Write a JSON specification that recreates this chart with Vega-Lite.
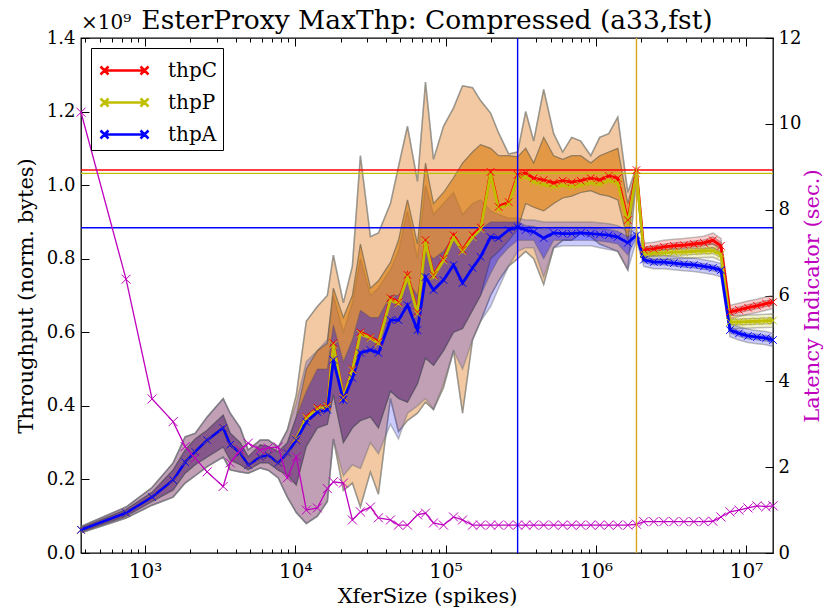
{
"$schema": "https://vega.github.io/schema/vega-lite/v6.json",
"width": 692, "height": 515,
"autosize": "none",
"padding": {"left": 81, "top": 38, "right": 58, "bottom": 59},
"background": "white",
"title": {"text": "EsterProxy MaxThp: Compressed (a33,fst)", "font": "DejaVu Serif", "fontSize": 26.5, "fontWeight": "normal", "color": "black", "anchor": "middle", "offset": 4, "dy": 25},
"config": {
  "view": {"stroke": "black", "strokeWidth": 1.3},
  "font": "DejaVu Serif",
  "axis": {"grid": false, "domain": false, "labelFont": "DejaVu Serif", "labelFontSize": 18, "labelColor": "black", "tickColor": "black", "tickWidth": 1, "titleFont": "DejaVu Serif", "titleFontSize": 21, "titleFontWeight": "normal", "titleColor": "black", "labelOverlap": false, "labelFlush": false}
},
"datasets": {
"thp": [
{"s":"thpC","x":374.5,"v":0.063,"lo":0.055,"il":0.058,"ih":0.068,"hi":0.072},
{"s":"thpC","x":747,"v":0.109,"lo":0.095,"il":0.100,"ih":0.118,"hi":0.125},
{"s":"thpC","x":1113,"v":0.152,"lo":0.130,"il":0.140,"ih":0.165,"hi":0.178},
{"s":"thpC","x":1537,"v":0.198,"lo":0.152,"il":0.171,"ih":0.226,"hi":0.245},
{"s":"thpC","x":1848,"v":0.247,"lo":0.190,"il":0.217,"ih":0.280,"hi":0.316},
{"s":"thpC","x":2154,"v":0.275,"lo":0.210,"il":0.240,"ih":0.310,"hi":0.325},
{"s":"thpC","x":2590,"v":0.307,"lo":0.235,"il":0.261,"ih":0.334,"hi":0.370},
{"s":"thpC","x":3311,"v":0.340,"lo":0.261,"il":0.288,"ih":0.375,"hi":0.420},
{"s":"thpC","x":3687,"v":0.294,"lo":0.226,"il":0.253,"ih":0.326,"hi":0.380},
{"s":"thpC","x":4299,"v":0.272,"lo":0.220,"il":0.240,"ih":0.300,"hi":0.340},
{"s":"thpC","x":4861,"v":0.239,"lo":0.217,"il":0.226,"ih":0.262,"hi":0.280},
{"s":"thpC","x":5843,"v":0.261,"lo":0.231,"il":0.245,"ih":0.294,"hi":0.307},
{"s":"thpC","x":6607,"v":0.266,"lo":0.225,"il":0.245,"ih":0.290,"hi":0.307},
{"s":"thpC","x":7702,"v":0.245,"lo":0.204,"il":0.225,"ih":0.275,"hi":0.288},
{"s":"thpC","x":8846,"v":0.272,"lo":0.152,"il":0.212,"ih":0.300,"hi":0.334},
{"s":"thpC","x":10155,"v":0.310,"lo":0.110,"il":0.185,"ih":0.370,"hi":0.430},
{"s":"thpC","x":11839,"v":0.370,"lo":0.080,"il":0.290,"ih":0.500,"hi":0.630},
{"s":"thpC","x":14019,"v":0.395,"lo":0.100,"il":0.340,"ih":0.550,"hi":0.670},
{"s":"thpC","x":16346,"v":0.400,"lo":0.140,"il":0.350,"ih":0.570,"hi":0.700},
{"s":"thpC","x":17920,"v":0.571,"lo":0.310,"il":0.430,"ih":0.720,"hi":0.810},
{"s":"thpC","x":20893,"v":0.424,"lo":0.170,"il":0.300,"ih":0.640,"hi":0.680},
{"s":"thpC","x":23988,"v":0.500,"lo":0.190,"il":0.340,"ih":0.700,"hi":0.780},
{"s":"thpC","x":27123,"v":0.600,"lo":0.125,"il":0.360,"ih":0.840,"hi":1.080},
{"s":"thpC","x":31623,"v":0.587,"lo":0.220,"il":0.370,"ih":0.720,"hi":0.860},
{"s":"thpC","x":35763,"v":0.574,"lo":0.160,"il":0.340,"ih":0.740,"hi":0.870},
{"s":"thpC","x":42987,"v":0.693,"lo":0.420,"il":0.440,"ih":0.790,"hi":0.950},
{"s":"thpC","x":48618,"v":0.682,"lo":0.330,"il":0.420,"ih":0.850,"hi":1.050},
{"s":"thpC","x":55823,"v":0.756,"lo":0.360,"il":0.410,"ih":0.960,"hi":1.160},
{"s":"thpC","x":65071,"v":0.655,"lo":0.380,"il":0.460,"ih":0.840,"hi":1.010},
{"s":"thpC","x":73564,"v":0.851,"lo":0.410,"il":0.530,"ih":1.060,"hi":1.280},
{"s":"thpC","x":83176,"v":0.756,"lo":0.390,"il":0.510,"ih":0.950,"hi":1.070},
{"s":"thpC","x":96978,"v":0.800,"lo":0.450,"il":0.550,"ih":0.980,"hi":1.160},
{"s":"thpC","x":113076,"v":0.864,"lo":0.550,"il":0.600,"ih":1.020,"hi":1.210},
{"s":"thpC","x":129837,"v":0.824,"lo":0.380,"il":0.610,"ih":1.060,"hi":1.270},
{"s":"thpC","x":151356,"v":0.864,"lo":0.580,"il":0.660,"ih":1.090,"hi":1.265},
{"s":"thpC","x":171133,"v":0.885,"lo":0.630,"il":0.700,"ih":1.110,"hi":1.230},
{"s":"thpC","x":199526,"v":1.036,"lo":0.700,"il":0.800,"ih":1.100,"hi":1.196},
{"s":"thpC","x":225633,"v":0.941,"lo":0.740,"il":0.820,"ih":1.080,"hi":1.142},
{"s":"thpC","x":263027,"v":0.954,"lo":0.780,"il":0.850,"ih":1.080,"hi":1.085},
{"s":"thpC","x":302000,"v":1.028,"lo":0.800,"il":0.880,"ih":1.077,"hi":1.090},
{"s":"thpC","x":341606,"v":1.033,"lo":0.820,"il":0.950,"ih":1.100,"hi":1.200},
{"s":"thpC","x":386367,"v":1.019,"lo":0.800,"il":0.940,"ih":1.060,"hi":1.120},
{"s":"thpC","x":450190,"v":1.014,"lo":0.730,"il":0.930,"ih":1.130,"hi":1.260},
{"s":"thpC","x":524807,"v":1.006,"lo":0.830,"il":0.950,"ih":1.080,"hi":1.140},
{"s":"thpC","x":602560,"v":1.012,"lo":0.850,"il":0.965,"ih":1.070,"hi":1.090},
{"s":"thpC","x":691831,"v":1.008,"lo":0.850,"il":0.970,"ih":1.080,"hi":1.130},
{"s":"thpC","x":794328,"v":1.012,"lo":0.870,"il":0.980,"ih":1.080,"hi":1.120},
{"s":"thpC","x":926119,"v":1.019,"lo":0.860,"il":0.985,"ih":1.060,"hi":1.080},
{"s":"thpC","x":1063386,"v":1.014,"lo":0.840,"il":0.975,"ih":1.080,"hi":1.130},
{"s":"thpC","x":1221083,"v":1.025,"lo":0.830,"il":0.970,"ih":1.090,"hi":1.140},
{"s":"thpC","x":1401962,"v":1.019,"lo":0.820,"il":0.960,"ih":1.100,"hi":1.185},
{"s":"thpC","x":1634688,"v":0.905,"lo":0.770,"il":0.850,"ih":0.950,"hi":0.980},
{"s":"thpC","x":1867000,"v":1.041,"lo":1.025,"il":1.033,"ih":1.046,"hi":1.052},
{"s":"thpC","x":2089296,"v":0.824,"lo":0.806,"il":0.816,"ih":0.832,"hi":0.842},
{"s":"thpC","x":2436048,"v":0.827,"lo":0.809,"il":0.819,"ih":0.835,"hi":0.845},
{"s":"thpC","x":2840100,"v":0.832,"lo":0.814,"il":0.824,"ih":0.840,"hi":0.850},
{"s":"thpC","x":3311311,"v":0.835,"lo":0.817,"il":0.827,"ih":0.843,"hi":0.853},
{"s":"thpC","x":3861000,"v":0.837,"lo":0.819,"il":0.829,"ih":0.845,"hi":0.855},
{"s":"thpC","x":4500600,"v":0.840,"lo":0.822,"il":0.832,"ih":0.848,"hi":0.858},
{"s":"thpC","x":5248075,"v":0.843,"lo":0.825,"il":0.835,"ih":0.851,"hi":0.861},
{"s":"thpC","x":6025596,"v":0.850,"lo":0.830,"il":0.840,"ih":0.860,"hi":0.870},
{"s":"thpC","x":6812921,"v":0.835,"lo":0.815,"il":0.825,"ih":0.845,"hi":0.855},
{"s":"thpC","x":7823000,"v":0.655,"lo":0.637,"il":0.647,"ih":0.663,"hi":0.673},
{"s":"thpC","x":8980000,"v":0.661,"lo":0.643,"il":0.653,"ih":0.669,"hi":0.679},
{"s":"thpC","x":10311000,"v":0.667,"lo":0.649,"il":0.659,"ih":0.675,"hi":0.685},
{"s":"thpC","x":11839000,"v":0.672,"lo":0.654,"il":0.664,"ih":0.680,"hi":0.690},
{"s":"thpC","x":13594000,"v":0.678,"lo":0.660,"il":0.670,"ih":0.686,"hi":0.696},
{"s":"thpC","x":15136000,"v":0.682,"lo":0.664,"il":0.674,"ih":0.690,"hi":0.700},
{"s":"thpP","x":374.5,"v":0.063,"lo":0.055,"il":0.058,"ih":0.068,"hi":0.072},
{"s":"thpP","x":747,"v":0.109,"lo":0.095,"il":0.100,"ih":0.118,"hi":0.125},
{"s":"thpP","x":1113,"v":0.152,"lo":0.130,"il":0.140,"ih":0.165,"hi":0.178},
{"s":"thpP","x":1537,"v":0.198,"lo":0.152,"il":0.171,"ih":0.226,"hi":0.245},
{"s":"thpP","x":1848,"v":0.247,"lo":0.190,"il":0.217,"ih":0.280,"hi":0.316},
{"s":"thpP","x":2154,"v":0.275,"lo":0.210,"il":0.240,"ih":0.310,"hi":0.325},
{"s":"thpP","x":2590,"v":0.307,"lo":0.235,"il":0.261,"ih":0.334,"hi":0.370},
{"s":"thpP","x":3311,"v":0.340,"lo":0.261,"il":0.288,"ih":0.375,"hi":0.420},
{"s":"thpP","x":3687,"v":0.294,"lo":0.226,"il":0.253,"ih":0.326,"hi":0.380},
{"s":"thpP","x":4299,"v":0.272,"lo":0.220,"il":0.240,"ih":0.300,"hi":0.340},
{"s":"thpP","x":4861,"v":0.239,"lo":0.217,"il":0.226,"ih":0.262,"hi":0.280},
{"s":"thpP","x":5843,"v":0.261,"lo":0.231,"il":0.245,"ih":0.294,"hi":0.307},
{"s":"thpP","x":6607,"v":0.266,"lo":0.225,"il":0.245,"ih":0.290,"hi":0.307},
{"s":"thpP","x":7702,"v":0.245,"lo":0.204,"il":0.225,"ih":0.275,"hi":0.288},
{"s":"thpP","x":8846,"v":0.272,"lo":0.152,"il":0.212,"ih":0.300,"hi":0.334},
{"s":"thpP","x":10155,"v":0.310,"lo":0.110,"il":0.185,"ih":0.370,"hi":0.430},
{"s":"thpP","x":11839,"v":0.368,"lo":0.080,"il":0.290,"ih":0.500,"hi":0.630},
{"s":"thpP","x":14019,"v":0.392,"lo":0.100,"il":0.340,"ih":0.550,"hi":0.670},
{"s":"thpP","x":16346,"v":0.398,"lo":0.140,"il":0.350,"ih":0.570,"hi":0.700},
{"s":"thpP","x":17920,"v":0.566,"lo":0.310,"il":0.430,"ih":0.720,"hi":0.810},
{"s":"thpP","x":20893,"v":0.422,"lo":0.170,"il":0.300,"ih":0.640,"hi":0.680},
{"s":"thpP","x":23988,"v":0.497,"lo":0.190,"il":0.340,"ih":0.700,"hi":0.780},
{"s":"thpP","x":27123,"v":0.596,"lo":0.125,"il":0.360,"ih":0.840,"hi":1.080},
{"s":"thpP","x":31623,"v":0.584,"lo":0.220,"il":0.370,"ih":0.720,"hi":0.860},
{"s":"thpP","x":35763,"v":0.570,"lo":0.160,"il":0.340,"ih":0.740,"hi":0.870},
{"s":"thpP","x":42987,"v":0.688,"lo":0.420,"il":0.440,"ih":0.790,"hi":0.950},
{"s":"thpP","x":48618,"v":0.678,"lo":0.330,"il":0.420,"ih":0.850,"hi":1.050},
{"s":"thpP","x":55823,"v":0.750,"lo":0.360,"il":0.410,"ih":0.960,"hi":1.160},
{"s":"thpP","x":65071,"v":0.650,"lo":0.380,"il":0.460,"ih":0.840,"hi":1.010},
{"s":"thpP","x":73564,"v":0.845,"lo":0.410,"il":0.530,"ih":1.060,"hi":1.280},
{"s":"thpP","x":83176,"v":0.752,"lo":0.390,"il":0.510,"ih":0.950,"hi":1.070},
{"s":"thpP","x":96978,"v":0.795,"lo":0.450,"il":0.550,"ih":0.980,"hi":1.160},
{"s":"thpP","x":113076,"v":0.858,"lo":0.550,"il":0.600,"ih":1.020,"hi":1.210},
{"s":"thpP","x":129837,"v":0.820,"lo":0.380,"il":0.610,"ih":1.060,"hi":1.270},
{"s":"thpP","x":151356,"v":0.858,"lo":0.580,"il":0.660,"ih":1.090,"hi":1.265},
{"s":"thpP","x":171133,"v":0.880,"lo":0.630,"il":0.700,"ih":1.110,"hi":1.230},
{"s":"thpP","x":199526,"v":1.030,"lo":0.700,"il":0.800,"ih":1.100,"hi":1.196},
{"s":"thpP","x":225633,"v":0.935,"lo":0.740,"il":0.820,"ih":1.080,"hi":1.142},
{"s":"thpP","x":263027,"v":0.948,"lo":0.780,"il":0.850,"ih":1.080,"hi":1.085},
{"s":"thpP","x":302000,"v":1.022,"lo":0.800,"il":0.880,"ih":1.077,"hi":1.090},
{"s":"thpP","x":341606,"v":1.022,"lo":0.820,"il":0.950,"ih":1.100,"hi":1.200},
{"s":"thpP","x":386367,"v":1.008,"lo":0.800,"il":0.940,"ih":1.060,"hi":1.120},
{"s":"thpP","x":450190,"v":1.002,"lo":0.730,"il":0.930,"ih":1.130,"hi":1.260},
{"s":"thpP","x":524807,"v":0.995,"lo":0.830,"il":0.950,"ih":1.080,"hi":1.140},
{"s":"thpP","x":602560,"v":1.000,"lo":0.850,"il":0.965,"ih":1.070,"hi":1.090},
{"s":"thpP","x":691831,"v":0.996,"lo":0.850,"il":0.970,"ih":1.080,"hi":1.130},
{"s":"thpP","x":794328,"v":1.000,"lo":0.870,"il":0.980,"ih":1.080,"hi":1.120},
{"s":"thpP","x":926119,"v":1.006,"lo":0.860,"il":0.985,"ih":1.060,"hi":1.080},
{"s":"thpP","x":1063386,"v":1.002,"lo":0.840,"il":0.975,"ih":1.080,"hi":1.130},
{"s":"thpP","x":1221083,"v":1.012,"lo":0.830,"il":0.970,"ih":1.090,"hi":1.140},
{"s":"thpP","x":1401962,"v":1.006,"lo":0.820,"il":0.960,"ih":1.100,"hi":1.185},
{"s":"thpP","x":1634688,"v":0.895,"lo":0.770,"il":0.850,"ih":0.950,"hi":0.980},
{"s":"thpP","x":1867000,"v":1.032,"lo":1.020,"il":1.026,"ih":1.040,"hi":1.046},
{"s":"thpP","x":2089296,"v":0.812,"lo":0.794,"il":0.804,"ih":0.820,"hi":0.830},
{"s":"thpP","x":2436048,"v":0.815,"lo":0.797,"il":0.807,"ih":0.823,"hi":0.833},
{"s":"thpP","x":2840100,"v":0.816,"lo":0.798,"il":0.808,"ih":0.824,"hi":0.834},
{"s":"thpP","x":3311311,"v":0.818,"lo":0.800,"il":0.810,"ih":0.826,"hi":0.836},
{"s":"thpP","x":3861000,"v":0.818,"lo":0.800,"il":0.810,"ih":0.826,"hi":0.836},
{"s":"thpP","x":4500600,"v":0.820,"lo":0.802,"il":0.812,"ih":0.828,"hi":0.838},
{"s":"thpP","x":5248075,"v":0.821,"lo":0.803,"il":0.813,"ih":0.829,"hi":0.839},
{"s":"thpP","x":6025596,"v":0.822,"lo":0.804,"il":0.814,"ih":0.830,"hi":0.840},
{"s":"thpP","x":6812921,"v":0.812,"lo":0.794,"il":0.804,"ih":0.820,"hi":0.830},
{"s":"thpP","x":7823000,"v":0.628,"lo":0.610,"il":0.620,"ih":0.636,"hi":0.646},
{"s":"thpP","x":8980000,"v":0.628,"lo":0.610,"il":0.620,"ih":0.636,"hi":0.646},
{"s":"thpP","x":10311000,"v":0.629,"lo":0.611,"il":0.621,"ih":0.637,"hi":0.647},
{"s":"thpP","x":11839000,"v":0.630,"lo":0.612,"il":0.622,"ih":0.638,"hi":0.648},
{"s":"thpP","x":13594000,"v":0.631,"lo":0.613,"il":0.623,"ih":0.639,"hi":0.649},
{"s":"thpP","x":15136000,"v":0.632,"lo":0.614,"il":0.624,"ih":0.640,"hi":0.650},
{"s":"thpA","x":374.5,"v":0.063,"lo":0.055,"il":0.058,"ih":0.068,"hi":0.072},
{"s":"thpA","x":747,"v":0.109,"lo":0.095,"il":0.100,"ih":0.118,"hi":0.125},
{"s":"thpA","x":1113,"v":0.152,"lo":0.130,"il":0.140,"ih":0.165,"hi":0.178},
{"s":"thpA","x":1537,"v":0.198,"lo":0.152,"il":0.171,"ih":0.226,"hi":0.245},
{"s":"thpA","x":1848,"v":0.247,"lo":0.190,"il":0.217,"ih":0.280,"hi":0.316},
{"s":"thpA","x":2154,"v":0.275,"lo":0.210,"il":0.240,"ih":0.310,"hi":0.325},
{"s":"thpA","x":2590,"v":0.307,"lo":0.235,"il":0.261,"ih":0.334,"hi":0.370},
{"s":"thpA","x":3311,"v":0.340,"lo":0.261,"il":0.288,"ih":0.375,"hi":0.420},
{"s":"thpA","x":3687,"v":0.294,"lo":0.226,"il":0.253,"ih":0.326,"hi":0.380},
{"s":"thpA","x":4299,"v":0.272,"lo":0.220,"il":0.240,"ih":0.300,"hi":0.340},
{"s":"thpA","x":4861,"v":0.239,"lo":0.217,"il":0.226,"ih":0.262,"hi":0.280},
{"s":"thpA","x":5843,"v":0.261,"lo":0.231,"il":0.245,"ih":0.294,"hi":0.307},
{"s":"thpA","x":6607,"v":0.266,"lo":0.225,"il":0.245,"ih":0.290,"hi":0.307},
{"s":"thpA","x":7702,"v":0.245,"lo":0.204,"il":0.225,"ih":0.275,"hi":0.288},
{"s":"thpA","x":8846,"v":0.272,"lo":0.152,"il":0.212,"ih":0.300,"hi":0.334},
{"s":"thpA","x":10155,"v":0.307,"lo":0.110,"il":0.185,"ih":0.370,"hi":0.408},
{"s":"thpA","x":11839,"v":0.356,"lo":0.080,"il":0.290,"ih":0.440,"hi":0.520},
{"s":"thpA","x":14019,"v":0.383,"lo":0.100,"il":0.340,"ih":0.500,"hi":0.550},
{"s":"thpA","x":16346,"v":0.389,"lo":0.140,"il":0.350,"ih":0.500,"hi":0.580},
{"s":"thpA","x":17920,"v":0.525,"lo":0.310,"il":0.430,"ih":0.620,"hi":0.700},
{"s":"thpA","x":20893,"v":0.416,"lo":0.210,"il":0.300,"ih":0.520,"hi":0.600},
{"s":"thpA","x":23988,"v":0.476,"lo":0.240,"il":0.340,"ih":0.580,"hi":0.680},
{"s":"thpA","x":27123,"v":0.544,"lo":0.230,"il":0.360,"ih":0.660,"hi":0.800},
{"s":"thpA","x":31623,"v":0.552,"lo":0.300,"il":0.370,"ih":0.640,"hi":0.700},
{"s":"thpA","x":35763,"v":0.544,"lo":0.270,"il":0.340,"ih":0.640,"hi":0.720},
{"s":"thpA","x":42987,"v":0.633,"lo":0.350,"il":0.440,"ih":0.700,"hi":0.770},
{"s":"thpA","x":48618,"v":0.633,"lo":0.310,"il":0.420,"ih":0.700,"hi":0.820},
{"s":"thpA","x":55823,"v":0.674,"lo":0.380,"il":0.410,"ih":0.740,"hi":0.930},
{"s":"thpA","x":65071,"v":0.606,"lo":0.400,"il":0.460,"ih":0.700,"hi":0.800},
{"s":"thpA","x":73564,"v":0.750,"lo":0.420,"il":0.530,"ih":0.820,"hi":1.000},
{"s":"thpA","x":83176,"v":0.715,"lo":0.390,"il":0.510,"ih":0.800,"hi":0.920},
{"s":"thpA","x":96978,"v":0.742,"lo":0.460,"il":0.550,"ih":0.820,"hi":0.950},
{"s":"thpA","x":113076,"v":0.783,"lo":0.550,"il":0.600,"ih":0.860,"hi":0.980},
{"s":"thpA","x":129837,"v":0.734,"lo":0.500,"il":0.610,"ih":0.820,"hi":0.920},
{"s":"thpA","x":151356,"v":0.775,"lo":0.580,"il":0.660,"ih":0.860,"hi":0.950},
{"s":"thpA","x":171133,"v":0.805,"lo":0.630,"il":0.700,"ih":0.880,"hi":0.960},
{"s":"thpA","x":199526,"v":0.859,"lo":0.670,"il":0.760,"ih":0.900,"hi":0.930},
{"s":"thpA","x":225633,"v":0.856,"lo":0.720,"il":0.800,"ih":0.900,"hi":0.920},
{"s":"thpA","x":263027,"v":0.878,"lo":0.780,"il":0.830,"ih":0.900,"hi":0.910},
{"s":"thpA","x":302000,"v":0.886,"lo":0.820,"il":0.850,"ih":0.900,"hi":0.910},
{"s":"thpA","x":341606,"v":0.878,"lo":0.830,"il":0.850,"ih":0.890,"hi":0.905},
{"s":"thpA","x":386367,"v":0.873,"lo":0.830,"il":0.850,"ih":0.888,"hi":0.905},
{"s":"thpA","x":450190,"v":0.856,"lo":0.750,"il":0.800,"ih":0.880,"hi":0.900},
{"s":"thpA","x":524807,"v":0.870,"lo":0.830,"il":0.850,"ih":0.885,"hi":0.900},
{"s":"thpA","x":602560,"v":0.868,"lo":0.835,"il":0.850,"ih":0.885,"hi":0.900},
{"s":"thpA","x":691831,"v":0.868,"lo":0.835,"il":0.850,"ih":0.885,"hi":0.900},
{"s":"thpA","x":794328,"v":0.870,"lo":0.835,"il":0.850,"ih":0.885,"hi":0.900},
{"s":"thpA","x":926119,"v":0.868,"lo":0.835,"il":0.850,"ih":0.885,"hi":0.900},
{"s":"thpA","x":1063386,"v":0.866,"lo":0.830,"il":0.848,"ih":0.882,"hi":0.898},
{"s":"thpA","x":1221083,"v":0.864,"lo":0.825,"il":0.845,"ih":0.880,"hi":0.895},
{"s":"thpA","x":1401962,"v":0.859,"lo":0.820,"il":0.840,"ih":0.875,"hi":0.890},
{"s":"thpA","x":1634688,"v":0.843,"lo":0.770,"il":0.810,"ih":0.860,"hi":0.875},
{"s":"thpA","x":1867000,"v":0.864,"lo":0.850,"il":0.857,"ih":0.872,"hi":0.880},
{"s":"thpA","x":2089296,"v":0.797,"lo":0.779,"il":0.789,"ih":0.805,"hi":0.815},
{"s":"thpA","x":2436048,"v":0.791,"lo":0.773,"il":0.783,"ih":0.799,"hi":0.809},
{"s":"thpA","x":2840100,"v":0.791,"lo":0.773,"il":0.783,"ih":0.799,"hi":0.809},
{"s":"thpA","x":3311311,"v":0.788,"lo":0.770,"il":0.780,"ih":0.796,"hi":0.806},
{"s":"thpA","x":3861000,"v":0.785,"lo":0.767,"il":0.777,"ih":0.793,"hi":0.803},
{"s":"thpA","x":4500600,"v":0.783,"lo":0.765,"il":0.775,"ih":0.791,"hi":0.801},
{"s":"thpA","x":5248075,"v":0.779,"lo":0.761,"il":0.771,"ih":0.787,"hi":0.797},
{"s":"thpA","x":6025596,"v":0.775,"lo":0.757,"il":0.767,"ih":0.783,"hi":0.793},
{"s":"thpA","x":6812921,"v":0.769,"lo":0.751,"il":0.761,"ih":0.777,"hi":0.787},
{"s":"thpA","x":7823000,"v":0.606,"lo":0.588,"il":0.598,"ih":0.614,"hi":0.624},
{"s":"thpA","x":8980000,"v":0.597,"lo":0.579,"il":0.589,"ih":0.605,"hi":0.615},
{"s":"thpA","x":10311000,"v":0.590,"lo":0.572,"il":0.582,"ih":0.598,"hi":0.608},
{"s":"thpA","x":11839000,"v":0.587,"lo":0.569,"il":0.579,"ih":0.595,"hi":0.605},
{"s":"thpA","x":13594000,"v":0.584,"lo":0.566,"il":0.576,"ih":0.592,"hi":0.602},
{"s":"thpA","x":15136000,"v":0.579,"lo":0.561,"il":0.571,"ih":0.587,"hi":0.597}
],
"lat": [
{"x":374.5,"L":10.27},{"x":747,"L":6.38},{"x":1113,"L":3.59},{"x":1537,"L":3.06},{"x":1848,"L":2.48},
{"x":2154,"L":2.21},{"x":2590,"L":1.89},{"x":3311,"L":1.55},{"x":3687,"L":2.10},{"x":4299,"L":2.40},
{"x":4861,"L":2.56},{"x":5843,"L":2.40},{"x":6607,"L":2.45},{"x":7702,"L":2.47},{"x":8846,"L":1.75},
{"x":10155,"L":2.24},{"x":11839,"L":1.00},{"x":14019,"L":1.05},{"x":16346,"L":1.50},{"x":17920,"L":1.66},
{"x":20893,"L":1.63},{"x":23988,"L":0.77},{"x":27123,"L":0.96},{"x":31623,"L":1.07},{"x":35763,"L":0.82},
{"x":42987,"L":0.77},{"x":48618,"L":0.65},{"x":55823,"L":0.65},{"x":65071,"L":0.89},{"x":73564,"L":0.93},
{"x":83176,"L":0.70},{"x":96978,"L":0.65},{"x":113076,"L":0.84},{"x":129837,"L":0.77},{"x":151356,"L":0.65},
{"x":171133,"L":0.65},{"x":199526,"L":0.65},{"x":225633,"L":0.65},{"x":263027,"L":0.65},{"x":302000,"L":0.65},
{"x":341606,"L":0.65},{"x":386367,"L":0.65},{"x":450190,"L":0.65},{"x":524807,"L":0.65},{"x":602560,"L":0.65},
{"x":691831,"L":0.65},{"x":794328,"L":0.65},{"x":926119,"L":0.65},{"x":1063386,"L":0.65},{"x":1221083,"L":0.65},
{"x":1401962,"L":0.65},{"x":1634688,"L":0.65},{"x":1867000,"L":0.67},{"x":2089296,"L":0.73},{"x":2436048,"L":0.73},
{"x":2840100,"L":0.73},{"x":3311311,"L":0.73},{"x":3861000,"L":0.73},{"x":4500600,"L":0.73},{"x":5248075,"L":0.73},
{"x":6025596,"L":0.74},{"x":6812921,"L":0.84},{"x":7823000,"L":0.96},{"x":8980000,"L":1.00},{"x":10311000,"L":1.05},
{"x":11839000,"L":1.10},{"x":13594000,"L":1.08},{"x":15136000,"L":1.10}
],
"vl": [{"x":302000,"c":"#0000ff"},{"x":1867000,"c":"#daa520"}],
"hl": [{"y":1.041,"c":"#ff0000"},{"y":1.032,"c":"#bfbf00"},{"y":0.884,"c":"#0000ff"}],
"lab": [{"t":"×10⁹"}]
},
"resolve": {"scale": {"y": "independent"}, "axis": {"x": "independent", "y": "independent"}},
"layer": [
  {"data": {"name": "thp"},
   "mark": {"type": "area", "fillOpacity": 0.2, "stroke": "#707070", "strokeOpacity": 0.45, "strokeWidth": 1.5},
   "encoding": {
     "x": {"field": "x", "type": "quantitative", "scale": {"type": "log", "domain": [374.5, 15136000], "nice": false}, "axis": null},
     "y": {"field": "lo", "type": "quantitative", "scale": {"domain": [0, 1.4], "nice": false}, "axis": {"orient": "left", "values": [0, 0.2, 0.4, 0.6, 0.8, 1.0, 1.2, 1.4], "format": ".1f", "tickSize": -8, "labelPadding": 14, "title": "Throughput (norm. bytes)", "titlePadding": 10}},
     "y2": {"field": "hi"},
     "fill": {"field": "s", "type": "nominal", "scale": {"domain": ["thpC", "thpP", "thpA"], "range": ["#ff0000", "#bfbf00", "#0000ff"]}}
   }},
  {"data": {"name": "thp"},
   "mark": {"type": "area", "fillOpacity": 0.35, "stroke": "#505050", "strokeOpacity": 0.35, "strokeWidth": 1.2},
   "encoding": {
     "x": {"field": "x", "type": "quantitative", "scale": {"type": "log", "domain": [374.5, 15136000], "nice": false}, "axis": null},
     "y": {"field": "il", "type": "quantitative", "scale": {"domain": [0, 1.4], "nice": false}, "axis": null},
     "y2": {"field": "ih"},
     "fill": {"field": "s", "type": "nominal"}
   }},
  {"data": {"name": "hl"},
   "mark": {"type": "rule", "strokeWidth": 1.4},
   "encoding": {
     "y": {"field": "y", "type": "quantitative", "scale": {"domain": [0, 1.4], "nice": false}, "axis": null},
     "stroke": {"field": "c", "type": "nominal", "scale": null}
   }},
  {"data": {"name": "thp"},
   "mark": {"type": "line", "strokeWidth": 2.8},
   "encoding": {
     "x": {"field": "x", "type": "quantitative", "scale": {"type": "log", "domain": [374.5, 15136000], "nice": false}, "axis": null},
     "y": {"field": "v", "type": "quantitative", "scale": {"domain": [0, 1.4], "nice": false}, "axis": null},
     "color": {"field": "s", "type": "nominal", "scale": {"domain": ["thpC", "thpP", "thpA"], "range": ["#ff0000", "#bfbf00", "#0000ff"]},
       "legend": {"title": null, "orient": "top-left", "offset": 10, "symbolType": "M-1.25,0L1.25,0M-1.5,-0.25L-1,0.25M-1.5,0.25L-1,-0.25M1,-0.25L1.5,0.25M1,0.25L1.5,-0.25", "symbolSize": 1024, "symbolStrokeWidth": 2.5, "symbolFillColor": "transparent", "symbolOffset": 11, "labelFontSize": 20, "labelFont": "DejaVu Serif", "labelColor": "black", "labelOffset": 26, "rowPadding": 4, "padding": 5, "strokeColor": "black", "fillColor": "white"}}
   }},
  {"data": {"name": "thp"},
   "mark": {"type": "point", "shape": "M-1,-1L1,1M-1,1L1,-1", "size": 56, "filled": false, "strokeWidth": 1, "opacity": 1},
   "encoding": {
     "x": {"field": "x", "type": "quantitative", "scale": {"type": "log", "domain": [374.5, 15136000], "nice": false}, "axis": null},
     "y": {"field": "v", "type": "quantitative", "scale": {"domain": [0, 1.4], "nice": false}, "axis": null},
     "color": {"field": "s", "type": "nominal", "scale": {"domain": ["thpC", "thpP", "thpA"], "range": ["#ff0000", "#bfbf00", "#0000ff"]}}
   }},
  {"data": {"name": "lab"},
   "mark": {"type": "text", "align": "left", "baseline": "bottom", "dy": -5, "fontSize": 20, "font": "DejaVu Serif", "color": "black"},
   "encoding": {
     "x": {"datum": 374.5, "type": "quantitative", "scale": {"type": "log", "domain": [374.5, 15136000], "nice": false}, "axis": null},
     "y": {"datum": 1.4, "type": "quantitative", "scale": {"domain": [0, 1.4], "nice": false}, "axis": null},
     "text": {"field": "t"}
   }},
  {"data": {"name": "lat"},
   "mark": {"type": "line", "color": "#bf00bf", "strokeWidth": 1.3},
   "encoding": {
     "x": {"field": "x", "type": "quantitative", "scale": {"type": "log", "domain": [374.5, 15136000], "nice": false}, "axis": null},
     "y": {"field": "L", "type": "quantitative", "scale": {"domain": [0, 12], "nice": false}, "axis": {"orient": "right", "values": [0, 2, 4, 6, 8, 10, 12], "tickSize": -8, "labelPadding": 13, "title": "Latency Indicator (sec.)", "titleColor": "#bf00bf", "titleAngle": 270, "titlePadding": 22}}
   }},
  {"data": {"name": "lat"},
   "mark": {"type": "point", "shape": "M-1,-1L1,1M-1,1L1,-1", "size": 81, "filled": false, "color": "#bf00bf", "strokeWidth": 1, "opacity": 1},
   "encoding": {
     "x": {"field": "x", "type": "quantitative", "scale": {"type": "log", "domain": [374.5, 15136000], "nice": false}, "axis": null},
     "y": {"field": "L", "type": "quantitative", "scale": {"domain": [0, 12], "nice": false}, "axis": null}
   }},
  {"data": {"name": "vl"},
   "mark": {"type": "rule", "strokeWidth": 1.4},
   "encoding": {
     "x": {"field": "x", "type": "quantitative", "scale": {"type": "log", "domain": [374.5, 15136000], "nice": false},
       "axis": {"orient": "bottom", "values": [1000, 10000, 100000, 1000000, 10000000], "labelExpr": "'10' + ['⁰','¹','²','³','⁴','⁵','⁶','⁷','⁸'][round(log(datum.value)/LN10)]", "labelFontSize": 20, "tickSize": -8, "labelPadding": 16, "title": "XferSize (spikes)", "titlePadding": 4}},
     "stroke": {"field": "c", "type": "nominal", "scale": null}
   }},
  {"data": {"name": "vl"},
   "mark": {"type": "rule", "opacity": 0},
   "encoding": {
     "x": {"field": "x", "type": "quantitative", "scale": {"type": "log", "domain": [374.5, 15136000], "nice": false},
       "axis": {"orient": "bottom", "values": [400,500,600,700,800,900,2000,3000,4000,5000,6000,7000,8000,9000,20000,30000,40000,50000,60000,70000,80000,90000,200000,300000,400000,500000,600000,700000,800000,900000,2000000,3000000,4000000,5000000,6000000,7000000,8000000,9000000], "labels": false, "tickSize": -4, "title": null}}
   }},
  {"data": {"name": "vl"},
   "mark": {"type": "rule", "opacity": 0},
   "encoding": {
     "x": {"field": "x", "type": "quantitative", "scale": {"type": "log", "domain": [374.5, 15136000], "nice": false},
       "axis": {"orient": "top", "values": [1000, 10000, 100000, 1000000, 10000000], "labels": false, "tickSize": -8, "title": null}}
   }},
  {"data": {"name": "vl"},
   "mark": {"type": "rule", "opacity": 0},
   "encoding": {
     "x": {"field": "x", "type": "quantitative", "scale": {"type": "log", "domain": [374.5, 15136000], "nice": false},
       "axis": {"orient": "top", "values": [400,500,600,700,800,900,2000,3000,4000,5000,6000,7000,8000,9000,20000,30000,40000,50000,60000,70000,80000,90000,200000,300000,400000,500000,600000,700000,800000,900000,2000000,3000000,4000000,5000000,6000000,7000000,8000000,9000000], "labels": false, "tickSize": -4, "title": null}}
   }}
]
}
